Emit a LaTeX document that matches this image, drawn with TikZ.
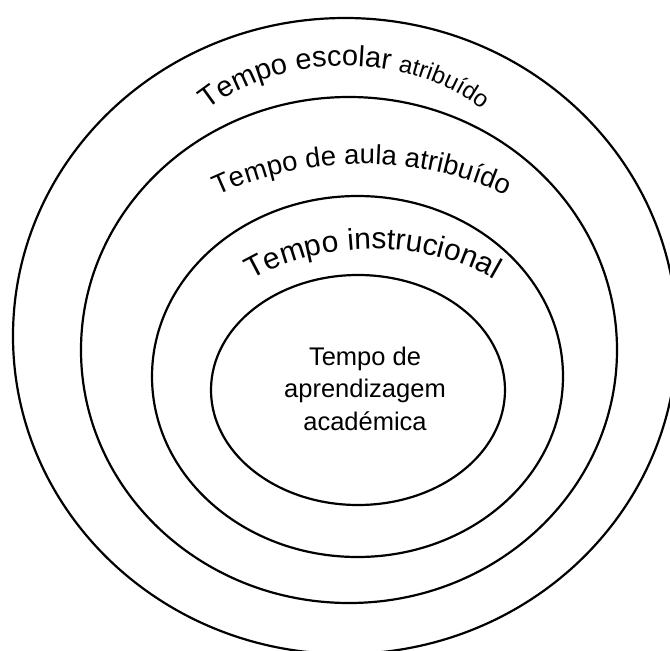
\documentclass[tikz,border=0pt]{standalone}
\usepackage{fontspec}
\setmainfont{Liberation Sans}
\usetikzlibrary{shapes.geometric,decorations.text}
\newcommand\ringbig{\fontsize{29}{35}\selectfont}
\newcommand\ringsmall{\fontsize{24}{29}\selectfont}
\newcommand\ringmid{\fontsize{27.5}{33}\selectfont}
\newcommand\ringins{\fontsize{30}{36}\selectfont}
\begin{document}
\begin{tikzpicture}[x=1pt,y=1pt,
  ring/.style={draw=black, line width=2.2pt, ellipse, inner sep=0pt, outer sep=0pt},
  centertext/.style={align=center, inner sep=0pt, font=\fontsize{25.5}{32.5}\selectfont}
]
\useasboundingbox (0,0) rectangle (670,-651);
\clip (0,0) rectangle (670,-651);
\fill[white] (0,0) rectangle (670,-651);

\node[ring, minimum width=664pt, minimum height=636pt] (outer) at (345,-336) {};
\node[ring, minimum width=536pt, minimum height=506pt] (aula) at (349,-350) {};
\node[ring, minimum width=411pt, minimum height=361pt] (instr) at (357.5,-376.5) {};
\node[ring, minimum width=294pt, minimum height=230pt] (inner) at (358,-390) {};

\node[centertext] (innerlabel) at (365,-388.5) {Tempo de\\aprendizagem\\académica};

\path[decorate, decoration={text along path, text align=center,
  text={|\ringbig|Tempo escolar |\ringsmall|atribuído}}]
  (165,-191) arc[start angle=180, end angle=0, x radius=180, y radius=125];

\path[decorate, decoration={text along path, text align=center,
  text={|\ringmid|Tempo de aula atribuído}}]
  (69,-407) arc[start angle=180, end angle=0, x radius=293, y radius=243];

\path[decorate, decoration={text along path, text align=center,
  text={|\ringins|Tempo instrucional}}]
  (188,-374) arc[start angle=180, end angle=0, x radius=185, y radius=125];
\end{tikzpicture}
\end{document}
